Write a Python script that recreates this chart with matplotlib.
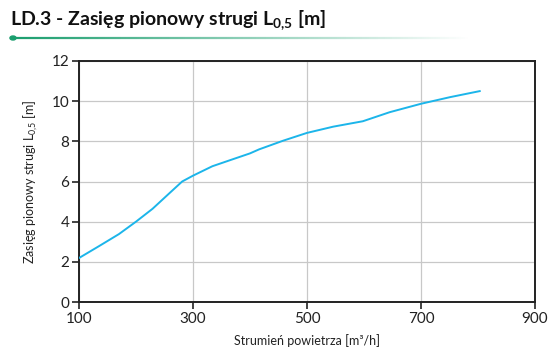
import matplotlib
matplotlib.use("Agg")
import matplotlib.pyplot as plt
import numpy as np
from matplotlib.collections import LineCollection

plt.rcParams["font.family"] = ["Lato", "DejaVu Sans"]
plt.rcParams["mathtext.default"] = "regular"

# data
flow = [100, 135, 170, 200, 229, 258, 281, 300, 334, 369, 400, 416, 458,
        500, 546, 598, 645, 700, 751, 803]
range_l = [2.19, 2.78, 3.38, 4.0, 4.64, 5.4, 6.0, 6.29, 6.76, 7.1, 7.4, 7.6,
           8.03, 8.42, 8.73, 9.0, 9.45, 9.87, 10.2, 10.5]
x_ticks = [100, 300, 500, 700, 900]
y_ticks = [0, 2, 4, 6, 8, 10, 12]

LINE = "#1cb5ea"
DARK = "#222222"

fig = plt.figure(figsize=(5.55, 3.63), dpi=100)
ax = fig.add_axes([0.1423, 0.168, 0.8217, 0.664])

ax.plot(flow, range_l, color=LINE, lw=1.4, zorder=3)
ax.set_xlim(100, 900)
ax.set_ylim(0, 12)
ax.set_xticks(x_ticks)
ax.set_yticks(y_ticks)
ax.grid(True, color="#c8c8c8", lw=0.9)
ax.set_axisbelow(True)
for s in ax.spines.values():
    s.set_color(DARK)
    s.set_linewidth(1.4)
ax.tick_params(direction="out", length=5, width=1.2, color=DARK,
               labelsize=11, labelcolor=DARK, pad=2)
ax.set_xlabel("Strumień powietrza [m³/h]", fontsize=9, color=DARK, labelpad=6)
ax.set_ylabel("Zasięg pionowy strugi L$_{0{,}5}$ [m]", fontsize=9, color=DARK, labelpad=8)

# title and decorative line
fig.text(0.018, 0.945, "LD.3 - Zasięg pionowy strugi L$_{0{,}5}$ [m]", fontsize=14,
         fontweight="bold", color="#111111", va="center")
xs = np.linspace(13, 470, 200) / 555
ys = np.full_like(xs, 1 - 38 / 363)
pts = np.array([xs, ys]).T.reshape(-1, 1, 2)
segs = np.concatenate([pts[:-1], pts[1:]], axis=1)
alphas = np.linspace(1, 0, len(segs))
cols = [(0.10, 0.62, 0.43, a) for a in alphas]
lc = LineCollection(segs, colors=cols, linewidths=1.6, transform=fig.transFigure)
fig.add_artist(lc)
fig.add_artist(plt.Circle((13 / 555, 1 - 38 / 363), 0.0055, color="#1a9e6e",
                          transform=fig.transFigure))

fig.savefig("out.png", dpi=100)
